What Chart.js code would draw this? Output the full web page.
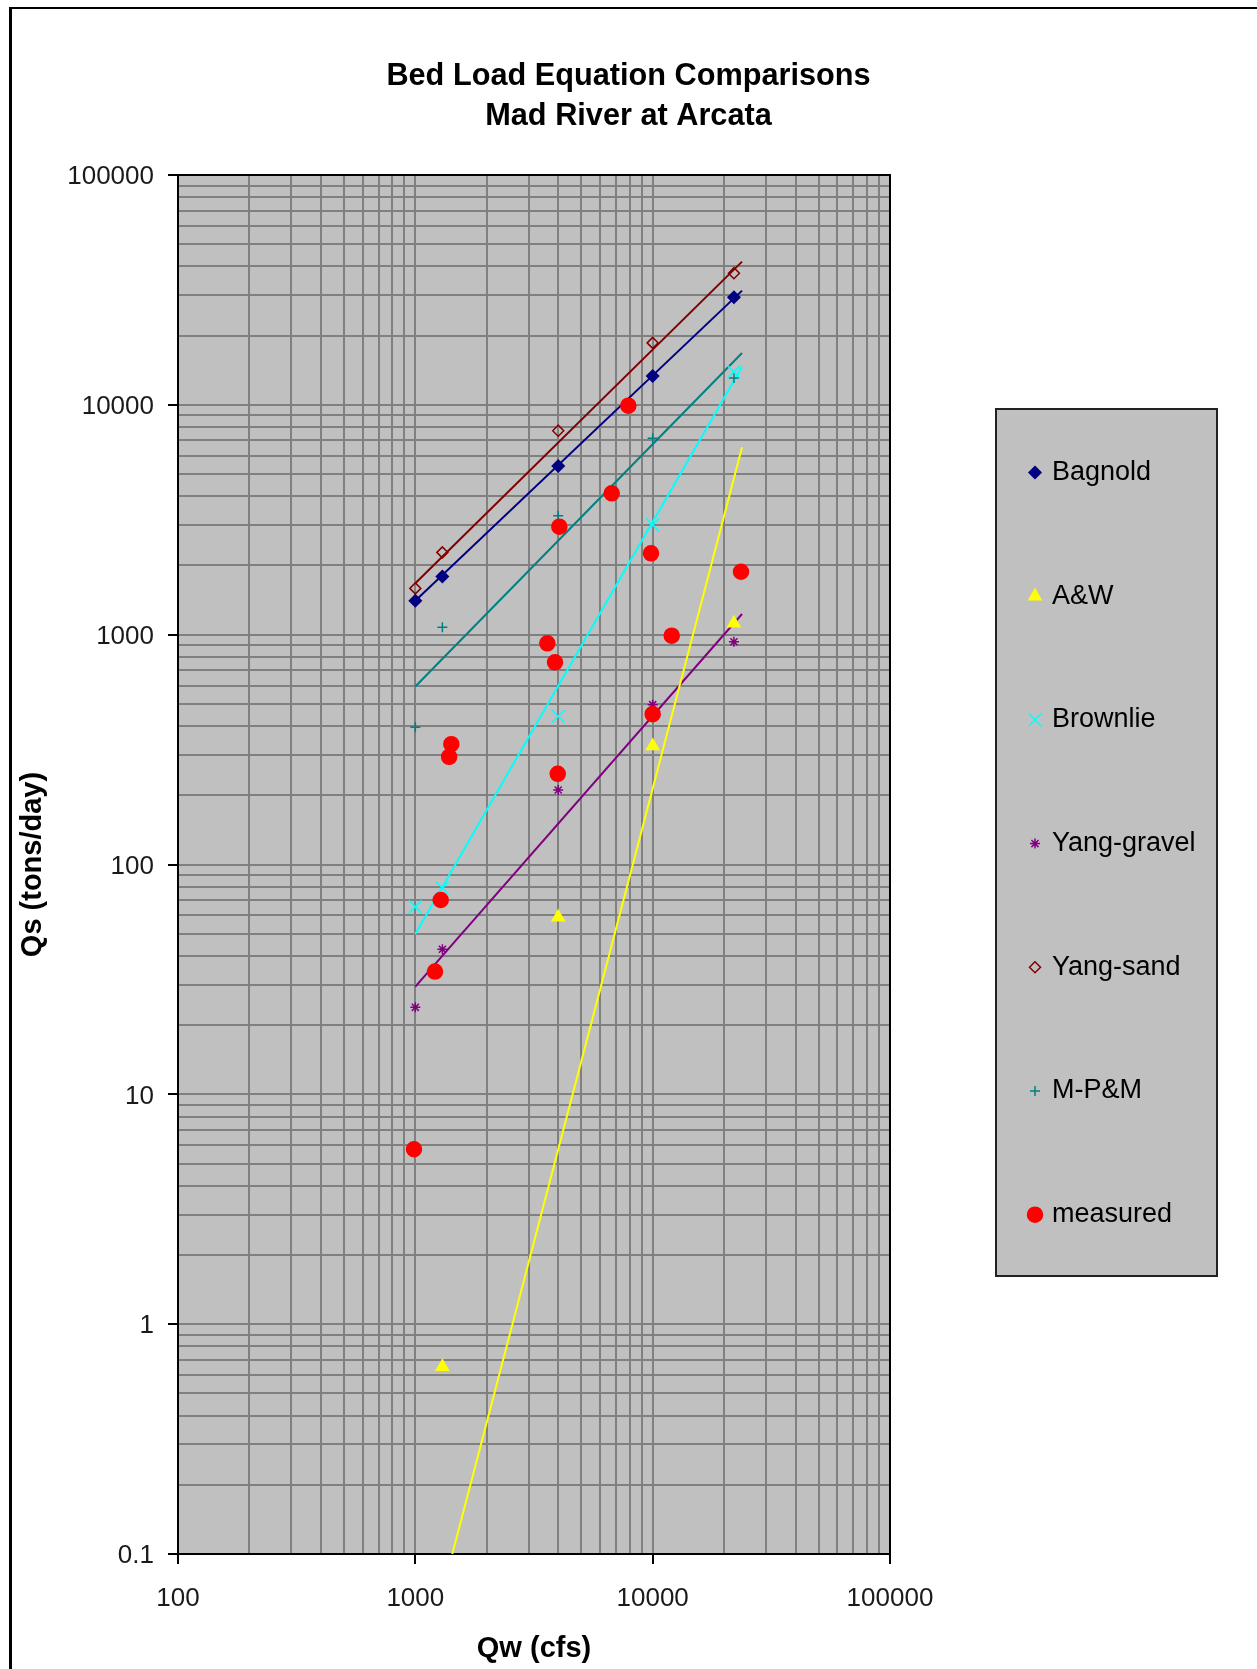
<!DOCTYPE html>
<html lang="en">
<head>
<meta charset="utf-8">
<title>Bed Load Equation Comparisons</title>
<script src="https://cdn.jsdelivr.net/npm/chart.js@4.4.1/dist/chart.umd.min.js"></script>
<style>
  html, body { margin: 0; padding: 0; background: #fff; overflow: hidden; }
  canvas { display: block; }
</style>
</head>
<body>
<canvas id="grafico" width="1257" height="1669"></canvas>
<script>
// Qw (cfs) used for the equation estimates
const qwEquacoes = [1000, 1300, 4000, 10000, 22000];
const bagnold = [1405, 1790, 5420, 13350, 29400];
const brownlie = [65.5, 79, 441, 3000, 13900];
const yangGravel = [23.9, 42.8, 211, 496, 932];
const yangSand = [1590, 2280, 7720, 18600, 37400];
const mpm = [396, 1076, 3290, 7150, 13100];
// A&W at 1000 cfs is below the axis, left out
const qwAW = [1300, 4000, 10000, 22000];
const aw = [0.653, 58.9, 328, 1120];

const qwMedido = [987, 1210, 1279, 1418, 1388, 3598, 3877, 4043, 3981, 6722, 7897, 9840, 10000, 12030, 23560];
const medido = [5.77, 34.2, 70.1, 334, 294, 917, 758, 2950, 248, 4121, 9913, 2259, 451, 990, 1879];

// power trendlines, end points
const qwTendencia = [1000, 23800];
const tendBagnold = [1405, 31400];
const tendBrownlie = [49.8, 14650];
const tendYangGravel = [29.4, 1230];
const tendYangSand = [1675, 42000];
const tendMpm = [595, 16800];
const tendAW = [0.0243, 6535];

const xTickLabels = ['100', '1000', '10000', '100000'];
const yTickLabels = ['0.1', '1', '10', '100', '1000', '10000', '100000'];

const ordemLegenda = ['Bagnold', 'A&W', 'Brownlie', 'Yang-gravel', 'Yang-sand', 'M-P&M', 'measured'];

const fonte = '"Liberation Sans", Arial, sans-serif';
Chart.defaults.font.family = fonte;

let grafico;

function pontos(xs, ys) {
  return xs.map((x, i) => ({ x: x, y: ys[i] }));
}

function montarTicks(labels) {
  const majores = labels.map(Number);
  const ticks = [];
  majores.forEach((v, i) => {
    ticks.push({ value: v, major: true });
    if (i < majores.length - 1) {
      for (let m = 2; m <= 9; m++) {
        ticks.push({ value: parseFloat((m * v).toPrecision(6)), major: false });
      }
    }
  });
  return ticks;
}

function rotuloTick(labels) {
  const valores = labels.map(Number);
  return function (value) {
    const i = valores.indexOf(value);
    return i >= 0 ? labels[i] : '';
  };
}

function serie(label, xs, ys, estilo, raio, cor, fundo) {
  return {
    label: label,
    data: pontos(xs, ys),
    pointStyle: estilo,
    pointRadius: raio,
    pointHoverRadius: raio,
    backgroundColor: fundo || cor,
    borderColor: cor,
    borderWidth: 1.5,
    showLine: false,
    order: 1
  };
}

function tendencia(ys, cor) {
  return {
    label: '',
    data: pontos(qwTendencia, ys),
    showLine: true,
    borderColor: cor,
    borderWidth: 2,
    pointRadius: 0,
    pointHoverRadius: 0,
    fill: false,
    order: 2
  };
}

function desenharLegenda(chart) {
  const ctx = chart.ctx;
  ctx.save();
  ctx.fillStyle = '#C0C0C0';
  ctx.fillRect(996, 409, 221, 867);
  ctx.strokeStyle = '#222';
  ctx.lineWidth = 2;
  ctx.strokeRect(996, 409, 221, 867);

  ctx.font = '27px ' + fonte;
  ctx.textBaseline = 'middle';
  ctx.textAlign = 'left';
  ordemLegenda.forEach((nome, i) => {
    const d = chart.data.datasets.find(ds => ds.label === nome);
    const y = 472.5 + i * 123.7;
    if (d && Chart.helpers && Chart.helpers.drawPoint) {
      ctx.fillStyle = d.backgroundColor;
      ctx.strokeStyle = d.borderColor;
      ctx.lineWidth = d.borderWidth;
      Chart.helpers.drawPoint(ctx, { pointStyle: d.pointStyle, radius: d.pointRadius, borderWidth: d.borderWidth, rotation: 0 }, 1035, y);
    }
    ctx.fillStyle = '#000';
    ctx.fillText(nome, 1052, y);
  });
  ctx.restore();
}

const moldura = {
  id: 'moldura',
  beforeDraw(chart) {
    const { ctx, chartArea: a } = chart;
    ctx.save();
    ctx.fillStyle = '#FFFFFF';
    ctx.fillRect(0, 0, chart.width, chart.height);
    ctx.fillStyle = '#000000';
    ctx.fillRect(9, 7, 3, chart.height);
    ctx.fillRect(9, 7, chart.width, 2);
    ctx.fillStyle = '#C0C0C0';
    ctx.fillRect(a.left, a.top, a.right - a.left, a.bottom - a.top);
    ctx.restore();
  },
  beforeDatasetsDraw(chart) {
    const { ctx, chartArea: a } = chart;
    ctx.save();
    ctx.strokeStyle = '#000';
    ctx.lineWidth = 2;
    ctx.strokeRect(a.left, a.top, a.right - a.left, a.bottom - a.top);
    ctx.restore();
  },
  afterDraw(chart) {
    const ctx = chart.ctx;
    ctx.save();
    ctx.fillStyle = '#000';
    ctx.font = 'bold 30.7px ' + fonte;
    ctx.textAlign = 'center';
    ctx.textBaseline = 'middle';
    ctx.fillText('Bed Load Equation Comparisons', 628.5, 76.5);
    ctx.fillText('Mad River at Arcata', 628.5, 116.5);
    ctx.restore();
    desenharLegenda(chart);
  }
};

function eixo(labels, extra) {
  return Object.assign({
    type: 'logarithmic',
    min: Number(labels[0]),
    max: Number(labels[labels.length - 1]),
    afterBuildTicks: s => { s.ticks = montarTicks(labels); },
    grid: {
      color: '#808080',
      lineWidth: 2,
      drawTicks: true,
      tickLength: 10,
      tickWidth: 2,
      tickColor: c => (c.tick && c.tick.major ? '#000' : 'rgba(0,0,0,0)')
    },
    border: { display: true, color: '#000', width: 2 }
  }, extra);
}

function criarGrafico() {
  const ctx = document.getElementById('grafico').getContext('2d');
  const medidos = serie('measured', qwMedido, medido, 'circle', 7.5, '#FF0000');
  medidos.order = 0;

  grafico = new Chart(ctx, {
    type: 'scatter',
    data: {
      datasets: [
        medidos,
        serie('Bagnold', qwEquacoes, bagnold, 'rectRot', 6, '#000080'),
        serie('A&W', qwAW, aw, 'triangle', 7, '#FFFF00'),
        serie('Brownlie', qwEquacoes, brownlie, 'crossRot', 9, '#00FFFF'),
        serie('Yang-gravel', qwEquacoes, yangGravel, 'star', 5, '#800080'),
        serie('Yang-sand', qwEquacoes, yangSand, 'rectRot', 5.5, '#800000', 'rgba(0,0,0,0)'),
        serie('M-P&M', qwEquacoes, mpm, 'cross', 5, '#008080'),
        tendencia(tendBagnold, '#000080'),
        tendencia(tendAW, '#FFFF00'),
        tendencia(tendBrownlie, '#00FFFF'),
        tendencia(tendYangGravel, '#800080'),
        tendencia(tendYangSand, '#800000'),
        tendencia(tendMpm, '#008080')
      ]
    },
    options: {
      responsive: false,
      animation: false,
      events: [],
      layout: { padding: { top: 175, right: 367, bottom: 0, left: 0 } },
      plugins: {
        legend: { display: false },
        tooltip: { enabled: false },
        title: { display: false }
      },
      scales: {
        x: eixo(xTickLabels, {
          position: 'bottom',
          afterFit: s => { s.height = 115; },
          ticks: {
            autoSkip: false,
            maxRotation: 0,
            padding: 19,
            color: '#1a1a1a',
            font: { size: 26 },
            callback: rotuloTick(xTickLabels)
          },
          title: {
            display: true,
            text: 'Qw (cfs)',
            color: '#000',
            font: { size: 29, weight: 'bold' },
            padding: { top: 0, bottom: 3 }
          }
        }),
        y: eixo(yTickLabels, {
          position: 'left',
          afterFit: s => { s.width = 178; },
          ticks: {
            autoSkip: false,
            padding: 14,
            labelOffset: 2,
            color: '#1a1a1a',
            font: { size: 26 },
            callback: rotuloTick(yTickLabels)
          },
          title: {
            display: true,
            text: 'Qs (tons/day)',
            color: '#000',
            font: { size: 29, weight: 'bold' },
            padding: { top: 16, bottom: 0 }
          }
        })
      }
    },
    plugins: [moldura]
  });
}

criarGrafico();
</script>
</body>
</html>
